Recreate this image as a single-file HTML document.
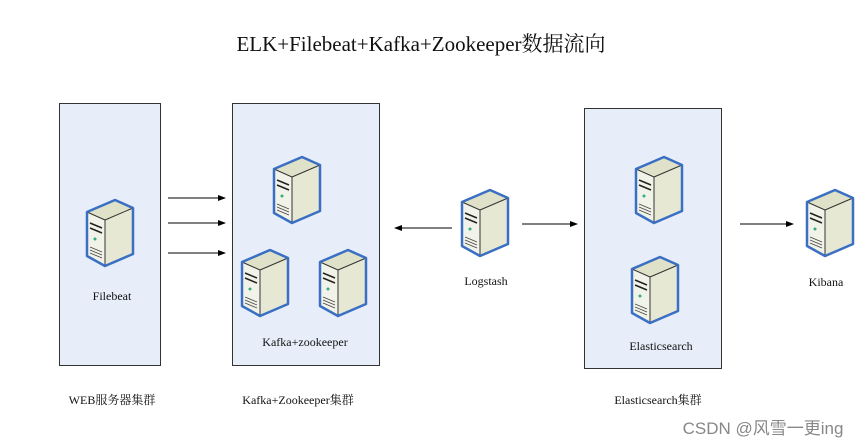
<!DOCTYPE html>
<html><head><meta charset="utf-8"><style>
body{margin:0;width:865px;height:444px;background:#fff;overflow:hidden;position:relative;font-family:"Liberation Serif","Noto Serif CJK SC",serif;}
.t{position:absolute;white-space:nowrap;transform:translateX(-50%);font-size:12px;color:#111;}
</style></head><body>
<svg width="865" height="444" style="position:absolute;left:0;top:0">
<defs>
<g id="srv">
<polygon points="2,14 30,2 48,10 48,56 20,68 2,58" fill="#e6e8d4"/>
<polygon points="2,14 30,2 48,10 20,22" fill="#dfe2c8"/>
<polygon points="2,14 20,22 20,68 2,58" fill="#f2f3e8"/>
<line x1="2" y1="14" x2="20" y2="22" stroke="#333" stroke-width="1"/>
<line x1="20" y1="22" x2="48" y2="10" stroke="#333" stroke-width="1"/>
<line x1="20" y1="22" x2="20" y2="68" stroke="#333" stroke-width="1"/>
<line x1="5" y1="25" x2="17" y2="30" stroke="#222" stroke-width="1.5"/>
<line x1="5" y1="30" x2="17" y2="35" stroke="#222" stroke-width="1.5"/>
<circle cx="10" cy="41" r="1.5" fill="#3a8"/>
<line x1="5" y1="49" x2="17" y2="54" stroke="#444" stroke-width="0.8"/>
<line x1="5" y1="52" x2="17" y2="57" stroke="#444" stroke-width="0.8"/>
<line x1="5" y1="55" x2="17" y2="60" stroke="#444" stroke-width="0.8"/>
<polygon points="2,14 30,2 48,10 48,56 20,68 2,58" fill="none" stroke="#3a6fc4" stroke-width="2.5" stroke-linejoin="round"/>
</g>
<marker id="ah" markerWidth="8" markerHeight="8" refX="7" refY="4" orient="auto" markerUnits="userSpaceOnUse"><path d="M0,1 L8,4 L0,7 z" fill="#000"/></marker>
</defs>
<rect x="59.5" y="103.5" width="101" height="262" fill="#e7eef9" stroke="#333"/>
<rect x="232.5" y="103.5" width="147" height="262" fill="#e7eef9" stroke="#333"/>
<rect x="584.5" y="108.5" width="137" height="260" fill="#e7eef9" stroke="#333"/>
<use href="#srv" x="85" y="198"/>
<use href="#srv" x="272" y="155"/>
<use href="#srv" x="240" y="248"/>
<use href="#srv" x="318" y="248"/>
<use href="#srv" x="460" y="188"/>
<use href="#srv" x="634" y="155"/>
<use href="#srv" x="630" y="255"/>
<use href="#srv" x="805" y="188"/>
<g stroke="#000" stroke-width="1" marker-end="url(#ah)">
<line x1="168" y1="198" x2="225" y2="198"/>
<line x1="168" y1="223" x2="225" y2="223"/>
<line x1="168" y1="253" x2="225" y2="253"/>
<line x1="452" y1="228" x2="395" y2="228"/>
<line x1="522" y1="224" x2="577" y2="224"/>
<line x1="740" y1="224" x2="793" y2="224"/>
</g>
</svg>
<div class="t" style="left:421px;top:28px;font-size:21px;">ELK+Filebeat+Kafka+Zookeeper数据流向</div>
<div class="t" style="left:112px;top:289px;">Filebeat</div>
<div class="t" style="left:305px;top:335px;">Kafka+zookeeper</div>
<div class="t" style="left:486px;top:274px;">Logstash</div>
<div class="t" style="left:661px;top:339px;">Elasticsearch</div>
<div class="t" style="left:826px;top:275px;">Kibana</div>
<div class="t" style="left:112px;top:391px;">WEB服务器集群</div>
<div class="t" style="left:298px;top:391px;">Kafka+Zookeeper集群</div>
<div class="t" style="left:658px;top:391px;">Elasticsearch集群</div>
<div class="t" style="left:763px;top:414px;font-family:'Liberation Sans','Noto Sans CJK SC',sans-serif;font-size:17px;color:#888;">CSDN @风雪一更ing</div>
</body></html>
